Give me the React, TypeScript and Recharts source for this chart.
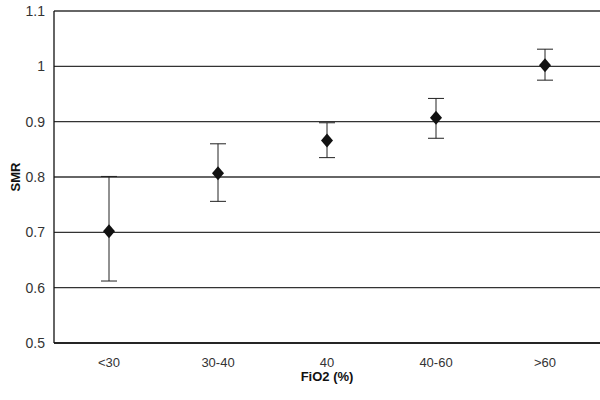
import React from "react";
import { ComposedChart, Line, XAxis, YAxis, CartesianGrid, ErrorBar } from "recharts";

const categories = ["<30", "30-40", "40", "40-60", ">60"];
const smr = [0.702, 0.807, 0.866, 0.907, 1.002];
const ciLow = [0.612, 0.756, 0.835, 0.870, 0.975];
const ciHigh = [0.801, 0.860, 0.898, 0.942, 1.031];
const yTicks = [0.5, 0.6, 0.7, 0.8, 0.9, 1.0, 1.1];

const data = categories.map((c, i) => ({
  group: c,
  smr: smr[i],
  err: [smr[i] - ciLow[i], ciHigh[i] - smr[i]],
}));

const FONT = "'Liberation Sans', Arial, sans-serif";

const Diamond = (props: any) => {
  const { cx, cy } = props;
  if (cx == null || cy == null) return null;
  return (
    <polygon
      points={`${cx},${cy - 7} ${cx + 6},${cy} ${cx},${cy + 7} ${cx - 6},${cy}`}
      fill="#111"
    />
  );
};

const YTitle = (props: any) => {
  const { viewBox } = props;
  const cy = viewBox.y + viewBox.height / 2;
  return (
    <text
      x={17}
      y={cy}
      transform={`rotate(-90, 17, ${cy})`}
      textAnchor="middle"
      dominantBaseline="middle"
      fontFamily={FONT}
      fontWeight="bold"
      fontSize={13}
      fill="#111"
    >
      SMR
    </text>
  );
};

const XTitle = (props: any) => {
  const { viewBox } = props;
  const cx = viewBox.x + viewBox.width / 2;
  return (
    <text
      x={cx}
      y={381}
      textAnchor="middle"
      fontFamily={FONT}
      fontWeight="bold"
      fontSize={13}
      fill="#111"
    >
      FiO2 (%)
    </text>
  );
};

export default function App() {
  return (
    <div style={{ position: "absolute", left: 0, top: 0, width: 600, height: 400, background: "#fff" }}>
      <ComposedChart width={600} height={400} data={data} margin={{ top: 11, right: 0, left: 0, bottom: 0 }}>
        <CartesianGrid vertical={false} stroke="#333" strokeWidth={1.3} />
        <XAxis
          dataKey="group"
          height={57}
          padding={{ left: 55, right: 55 }}
          axisLine={{ stroke: "#111", strokeWidth: 1.3 }}
          tickLine={false}
          tickSize={6}
          tickMargin={9}
          tick={{ fontFamily: FONT, fontSize: 13, fill: "#333" }}
          label={<XTitle />}
        />
        <YAxis
          width={54}
          domain={[0.5, 1.1]}
          ticks={yTicks}
          interval={0}
          allowDataOverflow
          axisLine={{ stroke: "#111", strokeWidth: 1.3 }}
          tickLine={false}
          tickSize={6}
          tickMargin={3}
          tick={{ fontFamily: FONT, fontSize: 14, fill: "#333" }}
          label={<YTitle />}
        />
        <Line
          dataKey="smr"
          stroke="none"
          isAnimationActive={false}
          dot={<Diamond />}
          activeDot={false}
        >
          <ErrorBar dataKey="err" width={8} stroke="#222" strokeWidth={1} direction="y" />
        </Line>
      </ComposedChart>
    </div>
  );
}
